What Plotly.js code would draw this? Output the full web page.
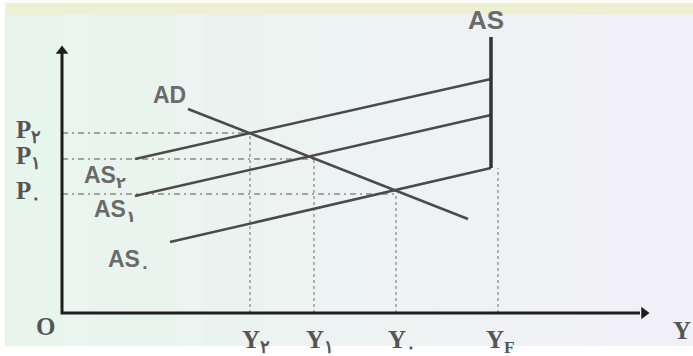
<!DOCTYPE html>
<html>
<head>
<meta charset="utf-8">
<script src="https://cdn.plot.ly/plotly-3.0.1.min.js"></script>
<style>html,body{margin:0;padding:0;background:#fff;}#chart{width:693px;height:356px;}</style>
</head>
<body>
<div id="chart"></div>
<script>
// Schematic AD / AS diagram (units measured from origin O)
const priceLevels = [180, 154, 119];          // P2, P1, P0
const priceLabels = ['P<sub>۲</sub>', 'P<sub>۱</sub>', 'P<sub>۰</sub>'];
const outputLevels = [188, 252, 334, 432];    // Y2, Y1, Y0, YF
const outputLabels = ['Y<sub>۲</sub>', 'Y<sub>۱</sub>', 'Y<sub>۰</sub>', 'Y<sub>F</sub>'];

const adX = [126, 406];
const adY = [204, 94];
const as2X = [73, 429];
const as2Y = [154, 234];
const as1X = [73, 429];
const as1Y = [117, 198];
const as0X = [108, 429];
const as0Y = [71, 145];
const asVertX = [429, 429];
const asVertY = [145, 276];
const curveLabels = ['AD', 'AS', 'AS<sub>۲</sub>', 'AS<sub>۱</sub>', 'AS<sub>۰</sub>'];

const lineCol = '#4a4a4a';
const traces = [];

// dashed price guide lines
priceLevels.forEach((p, i) => {
  traces.push({x: [0, outputLevels[i]], y: [p, p], mode: 'lines',
    line: {color: '#8a8a8a', width: 1.5, dash: '6px,4px,2px,4px'}, hoverinfo: 'skip'});
});
// dotted output guide lines
outputLevels.forEach((q, i) => {
  const top = i < 3 ? priceLevels[i] : as0Y[1];
  traces.push({x: [i < 3 ? q : q + 4, i < 3 ? q : q + 4], y: [0, top], mode: 'lines',
    line: {color: '#9a9a9a', width: 1.5, dash: 'dot'}, hoverinfo: 'skip'});
});
// curves
[[adX, adY], [as2X, as2Y], [as1X, as1Y], [as0X, as0Y]].forEach(([xs, ys]) => {
  traces.push({x: xs, y: ys, mode: 'lines', line: {color: lineCol, width: 2.5}, hoverinfo: 'skip'});
});
traces.push({x: asVertX, y: asVertY, mode: 'lines', line: {color: '#333', width: 3.5}, hoverinfo: 'skip'});
// axes
traces.push({x: [0, 0, 578], y: [260, 0, 0], mode: 'lines', line: {color: '#1e1e1e', width: 3}, hoverinfo: 'skip'});
traces.push({x: [0], y: [262], mode: 'markers', marker: {symbol: 'triangle-up', size: 11, color: '#1e1e1e'}, hoverinfo: 'skip'});
traces.push({x: [582], y: [0], mode: 'markers', marker: {symbol: 'triangle-right', size: 11, color: '#1e1e1e'}, hoverinfo: 'skip'});

const serif = {family: 'Liberation Serif, DejaVu Serif, serif', size: 25, color: '#555555', weight: 'bold'};
const sans = {family: 'Liberation Sans, Arial, DejaVu Sans, sans-serif', size: 23, color: '#6a6a6a', weight: 'bold'};
const ann = [];
priceLevels.forEach((p, i) => {
  ann.push({x: -48, y: p + 2, text: priceLabels[i], xanchor: 'left', yanchor: 'middle', showarrow: false, font: serif});
});
outputLevels.forEach((q, i) => {
  ann.push({x: q + 6, y: -28, text: outputLabels[i], xanchor: 'center', yanchor: 'middle', showarrow: false, font: serif});
});
ann.push({x: -17, y: -13, text: 'O', xanchor: 'center', yanchor: 'middle', showarrow: false, font: serif});
ann.push({x: 631, y: -17, text: 'Y', xanchor: 'right', yanchor: 'middle', showarrow: false, font: serif});
const curvePos = [[107, 218, 'center'], [424, 293, 'center'], [20, 137, 'left'], [30, 103, 'left'], [44, 53, 'left']];
curveLabels.forEach((t, i) => {
  ann.push({x: curvePos[i][0], y: curvePos[i][1], text: t, xanchor: curvePos[i][2], yanchor: 'middle',
    showarrow: false, font: Object.assign({}, sans, i === 1 ? {size: 26} : {})});
});

// photo-like background
const shapes = [];
const c0 = [232, 245, 237], c1 = [242, 240, 247];
const N = 24;
for (let k = 0; k < N; k++) {
  const t = k / (N - 1);
  const c = c0.map((v, j) => Math.round(v + (c1[j] - v) * t));
  shapes.push({type: 'rect', xref: 'paper', yref: 'paper', layer: 'below', line: {width: 0},
    x0: 5 / 693 + k * (688 / 693) / N, x1: 5 / 693 + (k + 1) * (688 / 693) / N + 0.002,
    y0: 10 / 356, y1: 353 / 356, fillcolor: `rgb(${c[0]},${c[1]},${c[2]})`});
}
shapes.push({type: 'rect', xref: 'paper', yref: 'paper', layer: 'below', line: {width: 0},
  x0: 5 / 693, x1: 1, y0: 341 / 356, y1: 353 / 356, fillcolor: '#eef0d6'});

const layout = {
  width: 693, height: 356,
  margin: {l: 0, r: 0, t: 0, b: 0},
  paper_bgcolor: '#ffffff', plot_bgcolor: 'rgba(0,0,0,0)',
  showlegend: false,
  xaxis: {range: [-62, 631], visible: false, fixedrange: true},
  yaxis: {range: [-43, 313], visible: false, fixedrange: true},
  annotations: ann,
  shapes: shapes
};
Plotly.newPlot('chart', traces, layout, {staticPlot: true, displayModeBar: false});
</script>
</body>
</html>
